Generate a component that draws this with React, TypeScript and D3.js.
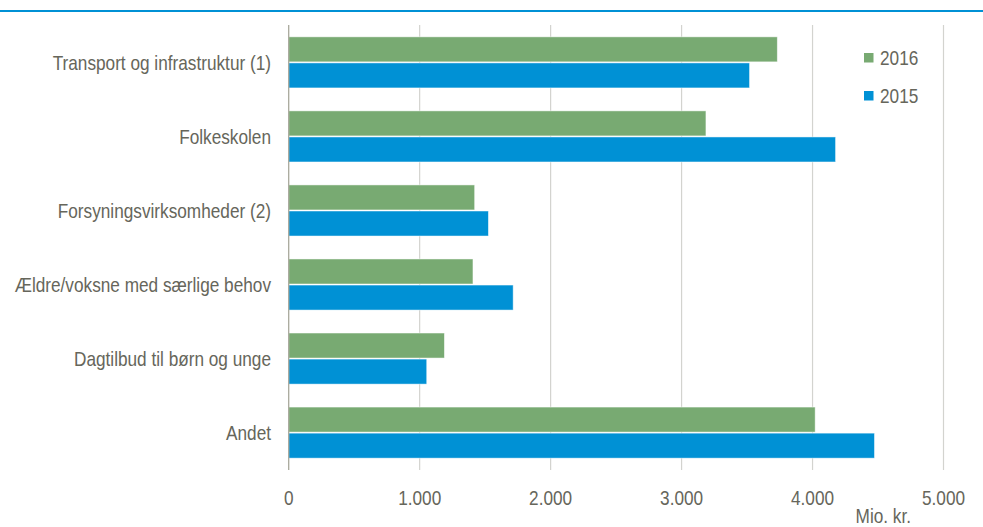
import * as d3 from 'd3';
import React from 'react';

const categories = [
  'Transport og infrastruktur (1)',
  'Folkeskolen',
  'Forsyningsvirksomheder (2)',
  'Ældre/voksne med særlige behov',
  'Dagtilbud til børn og unge',
  'Andet',
];
const years = ['2016', '2015'];
const values2016 = [3731, 3186, 1420, 1407, 1189, 4020];
const values2015 = [3519, 4176, 1525, 1714, 1054, 4473];
const xTicks = [0, 1000, 2000, 3000, 4000, 5000];

const W = 983;
const H = 527;
const FONT = '"Liberation Sans", Arial, sans-serif';
const TEXT = '#66665b';
const colors: Record<string, string> = { '2016': '#78aa72', '2015': '#0091d5' };

const fmt = (v: number) => d3.format(',')(v).replace(/,/g, '.');

// the source font is a condensed Arial, so squeeze Liberation Sans sideways
const NText: React.FC<{ x: number; y: number; anchor?: string; dy?: string; children: React.ReactNode }> = ({
  x,
  y,
  anchor = 'start',
  dy,
  children,
}) => (
  <g transform={`translate(${x},${y}) scale(0.82,1)`}>
    <text textAnchor={anchor} dy={dy} fontSize={21} fill={TEXT}>
      {children}
    </text>
  </g>
);

export default function App() {
  const x = d3.scaleLinear().domain([0, 5000]).range([288.7, 943.5]);
  const y = d3.scaleBand<string>().domain(categories).range([25, 470]).paddingInner(0.31).paddingOuter(0.16);
  const sub = d3.scaleBand<string>().domain(years).range([0, y.bandwidth()]).paddingInner(0.04);
  const series: Record<string, number[]> = { '2016': values2016, '2015': values2015 };

  return (
    <svg width={W} height={H} style={{ position: 'absolute', left: 0, top: 0 }} fontFamily={FONT}>
      <rect width={W} height={H} fill="#fff" />
      <line x1={0} x2={W} y1={11} y2={11} stroke="#0091d5" strokeWidth={2.2} />

      {xTicks.slice(1).map((t) => (
        <line key={t} x1={x(t)} x2={x(t)} y1={25} y2={470} stroke="#d3d3cf" strokeWidth={1.2} />
      ))}

      {categories.map((c, i) => (
        <g key={c} transform={`translate(0,${y(c)})`}>
          {years.map((yr) => (
            <rect
              key={yr}
              x={x(0)}
              y={sub(yr)}
              width={x(series[yr][i]) - x(0)}
              height={sub.bandwidth()}
              fill={colors[yr]}
              stroke="#ffffff"
              strokeOpacity={0.6}
              strokeWidth={0.8}
            />
          ))}
          <NText x={271} y={y.bandwidth() / 2} dy="0.35em" anchor="end">
            {c}
          </NText>
        </g>
      ))}

      <line x1={x(0)} x2={x(0)} y1={25} y2={470} stroke="#a8a89c" strokeWidth={1.3} />

      {xTicks.map((t) => (
        <NText key={t} x={x(t)} y={505} anchor="middle">
          {fmt(t)}
        </NText>
      ))}
      <NText x={911} y={523} anchor="end">
        Mio. kr.
      </NText>

      {years.map((yr, i) => (
        <g key={yr} transform={`translate(864,${53 + i * 38})`}>
          <rect width={9.5} height={9.5} fill={colors[yr]} />
          <NText x={16} y={4.75} dy="0.35em">
            {yr}
          </NText>
        </g>
      ))}
    </svg>
  );
}
